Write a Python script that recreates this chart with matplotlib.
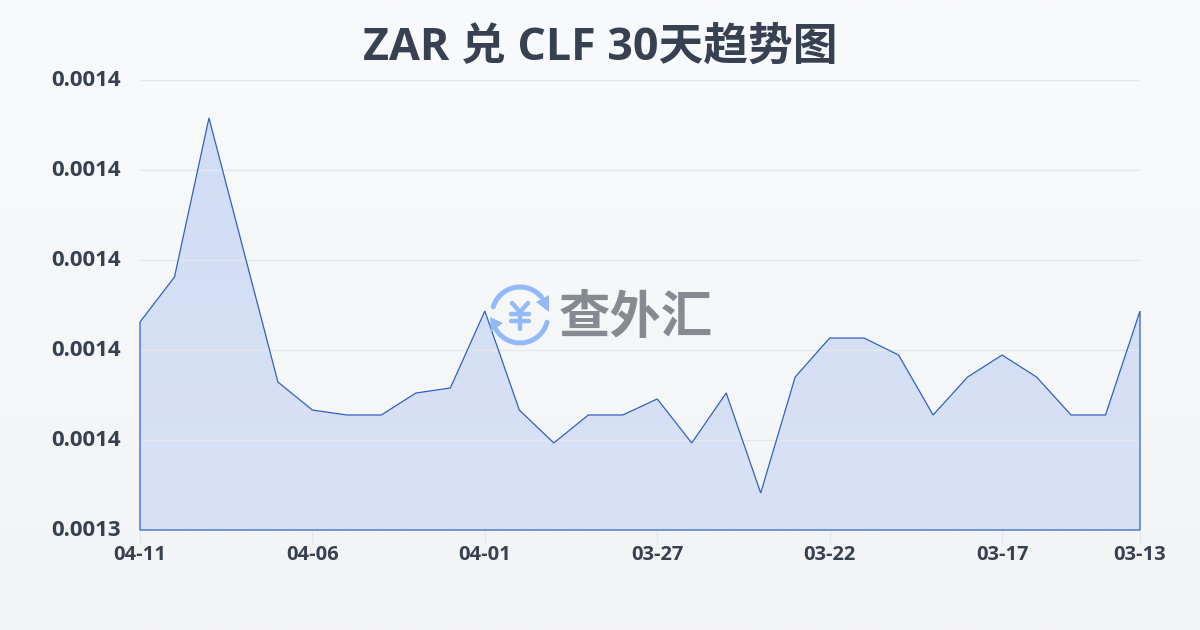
import numpy as np
import matplotlib
matplotlib.use('Agg')
import matplotlib.pyplot as plt
from matplotlib.patches import Arc, Polygon
from matplotlib.transforms import ScaledTranslation

plt.rcParams['font.family'] = ['Open Sans', 'Noto Sans CJK SC', 'DejaVu Sans']

title = 'ZAR 兑 CLF 30天趋势图'
rates = [0.00137311, 0.00137811, 0.00139578, 0.00138111, 0.00136644,
         0.00136333, 0.00136278, 0.00136278, 0.00136522, 0.00136578,
         0.00137433, 0.00136333, 0.00135967, 0.00136278, 0.00136278,
         0.00136456, 0.00135967, 0.00136522, 0.00135411, 0.00136700,
         0.00137133, 0.00137133, 0.00136944, 0.00136278, 0.00136700,
         0.00136944, 0.00136700, 0.00136278, 0.00136278, 0.00137433]
date_pos = [0, 5, 10, 15, 20, 25, 29]
date_labels = ['04-11', '04-06', '04-01', '03-27', '03-22', '03-17', '03-13']
y_ticks = [0.00135, 0.00136, 0.00137, 0.00138, 0.00139, 0.00140]
y_labels = ['0.0013', '0.0014', '0.0014', '0.0014', '0.0014', '0.0014']

text_col = '#374151'
line_col = '#2f62c4'
W, H = 1200, 630

fig = plt.figure(figsize=(12, 6.3), dpi=100)

# page background, light gradient
bg = fig.add_axes([0, 0, 1, 1], zorder=0)
top = np.array([249, 250, 252]) / 255
bot = np.array([243, 244, 246]) / 255
t = np.linspace(0, 1, 256)[:, None, None]
bg.imshow(top * (1 - t) + bot * t, aspect='auto', extent=[0, W, H, 0])
bg.set_xlim(0, W)
bg.set_ylim(H, 0)
bg.axis('off')

ax = fig.add_axes([140 / W, 1 - 530 / H, 1000 / W, 450 / H], zorder=1)
ax.patch.set_alpha(0)
x = np.arange(len(rates))
ax.set_xlim(0, 29)
ax.set_ylim(y_ticks[0], y_ticks[-1])

# fill with soft vertical gradient, clipped to the area under the line
fill_top = np.array([208, 221, 246]) / 255
fill_bot = np.array([217, 225, 244]) / 255
g = np.linspace(0, 1, 256)[:, None, None]
img = ax.imshow(fill_top * (1 - g) + fill_bot * g, aspect='auto',
                extent=[0, 29, y_ticks[0], y_ticks[-1]], zorder=1)
verts = [(0, y_ticks[0])] + list(zip(x, rates)) + [(29, y_ticks[0])]
poly = Polygon(verts, closed=True, transform=ax.transData, facecolor='none',
               edgecolor=line_col, linewidth=0.9, zorder=3, clip_on=False)
ax.add_patch(poly)
img.set_clip_path(poly)

ax.set_yticks(y_ticks)
ax.set_yticklabels(y_labels, fontweight='bold')
ax.set_xticks(date_pos)
ax.set_xticklabels(date_labels, fontweight='bold')
ax.grid(axis='y', color='#e5e7eb', linewidth=1, zorder=2)
ax.set_axisbelow(False)
for s in ax.spines.values():
    s.set_visible(False)
ax.tick_params(axis='y', length=0, pad=14, labelsize=16, labelcolor=text_col)
ax.tick_params(axis='x', length=10, width=1, color='#e5e7eb', pad=1,
               labelsize=14.5, labelcolor=text_col)
# y labels sit a little above their gridlines
up = ScaledTranslation(0, 1.5 / 100, fig.dpi_scale_trans)
for lab in ax.get_yticklabels():
    lab.set_transform(lab.get_transform() + up)

fig.text(600 / W, 1 - 48 / H, title, ha='center', va='center', fontsize=32.2,
         fontweight='bold', color=text_col)

# watermark logo
ov = fig.add_axes([0, 0, 1, 1], zorder=4)
ov.set_xlim(0, W)
ov.set_ylim(H, 0)
ov.axis('off')
logo = '#93b9f8'
ov.add_patch(Arc((520, 315), 56, 56, theta1=197, theta2=320, color=logo, lw=3.6, capstyle='round'))
ov.add_patch(Arc((520, 315), 56, 56, theta1=15, theta2=150, color=logo, lw=3.6, capstyle='round'))
ov.add_patch(Polygon([(549, 295), (549, 312), (536, 302)], color=logo, lw=0))
ov.add_patch(Polygon([(490, 317), (491, 332), (503, 323)], color=logo, lw=0))
ov.plot([512, 520, 528], [303, 312, 303], color=logo, lw=3.2, solid_capstyle='round')
ov.plot([520, 520], [312, 329], color=logo, lw=3.2, solid_capstyle='round')
ov.plot([511, 529], [314, 314], color=logo, lw=3.2, solid_capstyle='round')
ov.plot([511, 529], [321, 321], color=logo, lw=3.2, solid_capstyle='round')
ov.text(636, 318, '查外汇', ha='center', va='center', fontsize=37, fontweight='bold',
        color='#868a91', family=['Noto Sans CJK SC', 'DejaVu Sans'])

fig.savefig('out.png', dpi=100)
